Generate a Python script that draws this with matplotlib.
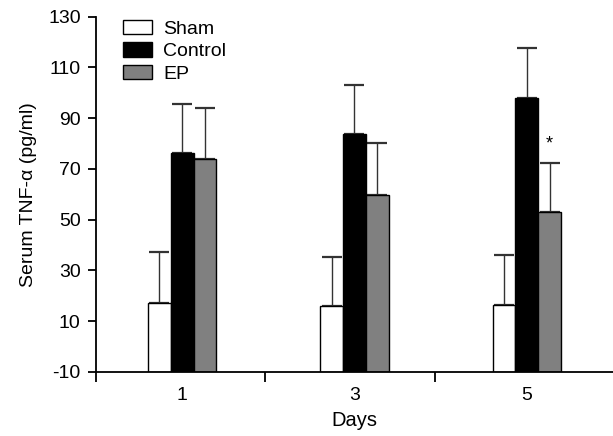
import numpy as np
import matplotlib.pyplot as plt

plt.rcParams['font.family'] = ['Liberation Sans', 'DejaVu Sans']
plt.rcParams['axes.unicode_minus'] = False

days = ['1', '3', '5']
groups = ['Sham', 'Control', 'EP']

sham = [17.3, 15.9, 16.4]
sham_err = [19.9, 19.5, 19.8]
control = [76.4, 83.8, 98.1]
control_err = [19.3, 19.3, 19.4]
ep = [74.0, 59.7, 52.9]
ep_err = [20.1, 20.4, 19.6]

fig = plt.figure(figsize=(6.13, 4.36), dpi=100)
ax = fig.add_axes([0.1566, 0.1468, 0.8434, 0.8149])

x = np.arange(len(days))
w = 0.132
base = -10

series = [(sham, sham_err, 'white'), (control, control_err, 'black'), (ep, ep_err, '#808080')]
for i, (vals, errs, col) in enumerate(series):
    vals = np.array(vals)
    pos = x + (i - 1) * w
    ax.bar(pos, vals - base, bottom=base, width=w, color=col,
           edgecolor='black', linewidth=1.0, label=groups[i], zorder=2)
    ax.errorbar(pos, vals, yerr=[np.zeros(len(vals)), errs], fmt='none',
                ecolor='#333333', elinewidth=1.0, capsize=7, capthick=1.6, zorder=1)

# significance mark
ax.text(x[2] + w, ep[2] + ep_err[2] + 7.5, '*', ha='center', va='center', fontsize=13)

ax.set_xlim(-0.5, 2.5)
ax.set_ylim(-10, 130)
ax.set_yticks(np.arange(-10, 131, 20))

ax.set_xticks([-0.5, 0.48, 1.47])
ax.set_xticklabels([])
ax.set_xticks(x, minor=True)
ax.set_xticklabels(days, minor=True)
ax.tick_params(axis='x', which='major', direction='out', length=7, width=1.3)
ax.tick_params(axis='x', which='minor', length=0, pad=11, labelsize=14)
ax.tick_params(axis='y', direction='out', length=6, width=1.3, labelsize=14, pad=5)

ax.spines['top'].set_visible(False)
ax.spines['right'].set_visible(False)
ax.spines['left'].set_linewidth(1.3)
ax.spines['bottom'].set_linewidth(1.3)

ax.set_xlabel('Days', fontsize=14.5, labelpad=5)
ax.set_ylabel('Serum TNF-\u03b1 (pg/ml)', fontsize=14, labelpad=8)

ax.legend(loc='upper left', bbox_to_anchor=(123 / 613, 1 - 20 / 436),
          bbox_transform=fig.transFigure, frameon=False, fontsize=14,
          borderpad=0, borderaxespad=0,
          handlelength=1.5, handleheight=0.77, handletextpad=0.57, labelspacing=0.22)

plt.savefig('out.png', dpi=100)
